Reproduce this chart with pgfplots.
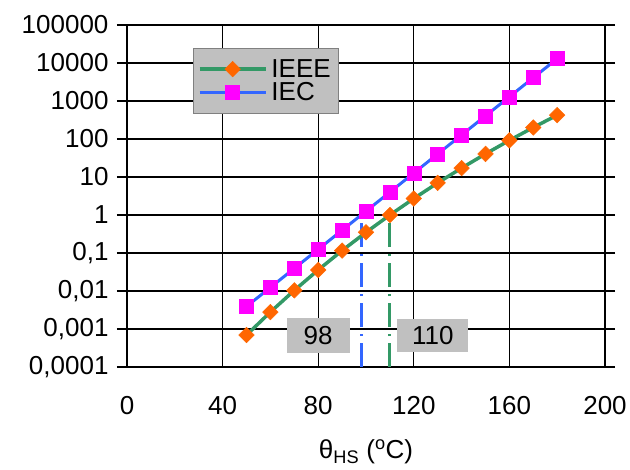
\documentclass[border=0pt]{standalone}
\usepackage{fontspec}
\setmainfont{Liberation Sans}
\usepackage{pgfplots}
\pgfplotsset{compat=1.18}

\definecolor{ieeegreen}{RGB}{51,153,102}
\definecolor{ieeeorange}{RGB}{255,102,0}
\definecolor{iecblue}{RGB}{51,102,255}
\definecolor{iecmagenta}{RGB}{255,0,255}
\definecolor{boxgray}{RGB}{192,192,192}

\newcommand{\bigfont}{\fontsize{26bp}{30bp}\selectfont}

\begin{document}
\begin{tikzpicture}
\begin{axis}[
    scale only axis,
    width=478bp, height=342bp,
    ymode=log,
    xmin=0, xmax=200,
    ymin=1e-4, ymax=1e5,
    xtick={0,40,80,120,160,200},
    ytick={1e-4,1e-3,1e-2,1e-1,1,10,100,1000,10000,100000},
    yticklabels={{0,0001},{0,001},{0,01},{0,1},1,10,100,1000,10000,100000},
    yminorticks=false,
    grid=major,
    major grid style={black, line width=1.3pt},
    axis line style={black, line width=3pt},
    tick align=outside,
    major tick length=10bp,
    xtick style={draw=none},
    ytick style={black, line width=1.3pt},
    tick label style={font=\bigfont},
    xticklabel style={anchor=center, yshift=-29bp},
    yticklabel style={xshift=-5bp},
    /pgf/number format/assume math mode=true,
    xlabel={θ\textsubscript{HS} (\textsuperscript{o}C)},
    xlabel style={font=\bigfont, at={(axis description cs:0.5,-0.249)}, anchor=center},
    legend style={at={(0.139,0.933)}, anchor=north west, fill=boxgray,
        draw=gray, line width=1pt, font=\bigfont, inner xsep=4bp, inner ysep=9bp,
        row sep=0bp, nodes={inner xsep=4bp}},
    legend cell align=left,
    legend image code/.code={
        \draw[mark repeat=2, mark phase=2]
        plot coordinates {(0bp,0bp) (33bp,0bp) (66bp,0bp)};
    },
]

% thick reference line at aging factor 1
\addplot[black, line width=3pt, forget plot] coordinates {(0,1) (200,1)};

% dashed markers at 98 and 110 degC
\addplot[iecblue, line width=3pt, dash pattern=on 24bp off 7bp on 2bp off 7bp, forget plot]
    coordinates {(98,1e-4) (98,1)};
\addplot[ieeegreen, line width=3pt, dash pattern=on 24bp off 7bp on 2bp off 7bp, forget plot]
    coordinates {(110,1e-4) (110,1)};

% IEEE
\addplot[ieeegreen, line width=3.5pt, mark=square*,
    mark options={solid, fill=ieeeorange, draw=ieeeorange, line width=0.5pt, rotate=45, mark size=5.5bp}]
    coordinates {
    (50,0.000693) (60,0.00279) (70,0.0104) (80,0.0358) (90,0.116)
    (100,0.350) (110,1) (120,2.71) (130,6.99) (140,17.2)
    (150,40.6) (160,92.1) (170,201) (180,425)
    };
\addlegendentry{IEEE}

% IEC
\addplot[iecblue, line width=3pt, mark=square*,
    mark options={solid, fill=iecmagenta, draw=iecmagenta, line width=0.5pt, mark size=7bp}]
    coordinates {
    (50,0.00391) (60,0.0124) (70,0.0394) (80,0.125) (90,0.397)
    (100,1.26) (110,4) (120,12.7) (130,40.3) (140,128)
    (150,406) (160,1290) (170,4096) (180,13000)
    };
\addlegendentry{IEC}

\node[fill=boxgray, minimum width=63bp, minimum height=35bp, inner sep=0pt, font=\bigfont]
    at (axis cs:80,6.8e-4) {98};
\node[fill=boxgray, minimum width=71bp, minimum height=33bp, inner sep=0pt, font=\bigfont]
    at (axis cs:128,6.8e-4) {110};

\end{axis}
\pgfresetboundingbox
\path[use as bounding box] (-127bp,-103bp) rectangle (503bp,367bp);
\end{tikzpicture}
\end{document}
